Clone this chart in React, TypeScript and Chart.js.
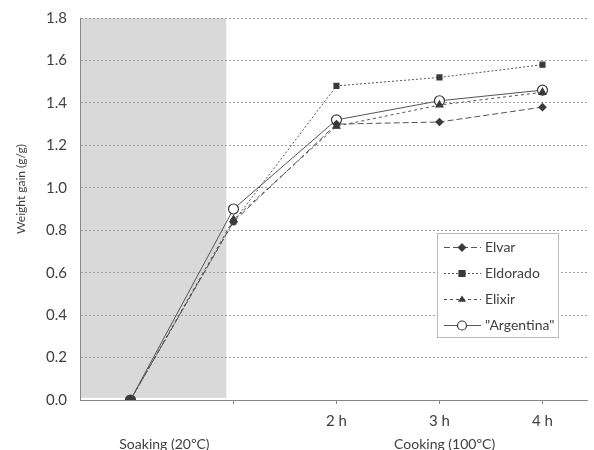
import React, { useEffect, useRef } from "react";
import { Chart, registerables } from "chart.js";

Chart.register(...registerables);

const X_POS = [0, 1, 2, 3, 4];
const TICK_LABELS: Record<number, string> = { 1: "", 2: "2 h", 3: "3 h", 4: "4 h" };
const SERIES_NAMES = ["Elvar", "Eldorado", "Elixir", "\"Argentina\""];
const ELVAR = [0, 0.84, 1.30, 1.31, 1.38];
const ELDORADO = [0, 0.84, 1.48, 1.52, 1.58];
const ELIXIR = [0, 0.85, 1.29, 1.39, 1.45];
const ARGENTINA = [0, 0.90, 1.32, 1.41, 1.46];
const SOAK_END = 0.93;
const PHASE_LABELS = [
  { text: "Soaking (20ºC)", at: 0.33 },
  { text: "Cooking (100ºC)", at: 3.05 },
];

const FONT = "Lato, 'Open Sans', sans-serif";
const TXT = "#404040";
const LINE = "#555555";
const MARK = "#3a3a3a";

function drawMarker(ctx: CanvasRenderingContext2D, style: string, x: number, y: number, r: number) {
  ctx.beginPath();
  if (style === "circle") {
    ctx.arc(x, y, r, 0, Math.PI * 2);
  } else if (style === "rect") {
    ctx.rect(x - r, y - r, 2 * r, 2 * r);
  } else if (style === "rectRot") {
    ctx.moveTo(x, y - r * 1.2);
    ctx.lineTo(x + r * 1.2, y);
    ctx.lineTo(x, y + r * 1.2);
    ctx.lineTo(x - r * 1.2, y);
    ctx.closePath();
  } else if (style === "triangle") {
    const h = r * 1.5;
    ctx.moveTo(x, y - h * 0.66);
    ctx.lineTo(x + r, y + h * 0.34);
    ctx.lineTo(x - r, y + h * 0.34);
    ctx.closePath();
  }
  ctx.fill();
  ctx.stroke();
}

const bgPlugin = {
  id: "soakBg",
  beforeDraw(chart: any) {
    const { ctx, chartArea, scales } = chart;
    const x1 = scales.x.getPixelForValue(SOAK_END);
    const yTop = scales.y.getPixelForValue(1.8);
    const yBot = scales.y.getPixelForValue(0.01);
    ctx.save();
    ctx.fillStyle = "#d9d9d9";
    ctx.fillRect(chartArea.left, yTop, x1 - chartArea.left, yBot - yTop);
    ctx.restore();
  },
  afterDraw(chart: any) {
    const { ctx, scales } = chart;
    ctx.save();
    ctx.fillStyle = TXT;
    ctx.font = `14px ${FONT}`;
    ctx.textAlign = "center";
    ctx.textBaseline = "middle";
    PHASE_LABELS.forEach((p) => {
      ctx.fillText(p.text, scales.x.getPixelForValue(p.at), 444);
    });
    ctx.save();
    ctx.translate(21, 189);
    ctx.rotate(-Math.PI / 2);
    ctx.font = `12px ${FONT}`;
    ctx.fillText("Weight gain (g/g)", 0, 0);
    ctx.restore();

    const bx = 437, by = 233, bw = 121, bh = 104;
    ctx.fillStyle = "#ffffff";
    ctx.fillRect(bx, by, bw, bh);
    ctx.strokeStyle = "#bbbbbb";
    ctx.lineWidth = 1;
    ctx.strokeRect(bx + 0.5, by + 0.5, bw, bh);
    chart.data.datasets.forEach((ds: any, i: number) => {
      const y = by + 14 + i * 26;
      ctx.save();
      ctx.strokeStyle = ds.borderColor;
      ctx.lineWidth = ds.borderWidth;
      ctx.setLineDash(ds.borderDash || []);
      ctx.beginPath();
      ctx.moveTo(bx + 7, y + 0.5);
      ctx.lineTo(bx + 44, y + 0.5);
      ctx.stroke();
      ctx.restore();
      ctx.save();
      ctx.fillStyle = ds.legendFill;
      ctx.strokeStyle = MARK;
      ctx.lineWidth = ds.pointBorderWidth;
      drawMarker(ctx, ds.pointStyle, bx + 25, y + 0.5, ds.pointStyle === "circle" ? 4.5 : 3);
      ctx.restore();
      ctx.fillStyle = TXT;
      ctx.font = `14px ${FONT}`;
      ctx.textAlign = "left";
      ctx.textBaseline = "middle";
      ctx.fillText(ds.label, bx + 48, y);
    });
    ctx.restore();
  },
};

function mk(label: string, vals: number[], style: string, dash: number[], r: number, fill: string | string[], legendFill: string) {
  return {
    label,
    data: X_POS.map((x, i) => ({ x, y: vals[i] })),
    borderColor: LINE,
    borderWidth: 1,
    borderDash: dash,
    pointStyle: style,
    pointRadius: r,
    pointBackgroundColor: fill,
    pointBorderColor: MARK,
    pointBorderWidth: 1.2,
    legendFill,
    tension: 0,
  };
}

export default function App() {
  const ref = useRef<HTMLCanvasElement>(null);
  useEffect(() => {
    document.body.style.margin = "0";
    const chart = new Chart(ref.current!, {
      type: "line",
      data: {
        datasets: [
          mk(SERIES_NAMES[0], ELVAR, "rectRot", [6, 3], 3.5, MARK, MARK),
          mk(SERIES_NAMES[1], ELDORADO, "rect", [2, 2], 3.5, MARK, MARK),
          mk(SERIES_NAMES[2], ELIXIR, "triangle", [3, 3], 4, MARK, MARK),
          mk(SERIES_NAMES[3], ARGENTINA, "circle", [], 5, ARGENTINA.map((_, i) => (i === 0 ? MARK : "#ffffff")), "#ffffff"),
        ] as any,
      },
      plugins: [bgPlugin],
      options: {
        animation: false,
        responsive: false,
        maintainAspectRatio: false,
        layout: { padding: { left: 0, top: 18, right: 4, bottom: 0 } },
        plugins: { legend: { display: false }, tooltip: { enabled: false } },
        scales: {
          x: {
            type: "linear",
            min: -0.49,
            max: 4.44,
            afterBuildTicks: (s: any) => {
              s.ticks = [1, 2, 3, 4].map((v) => ({ value: v }));
            },
            afterFit: (s: any) => {
              s.height = 50;
              s.paddingLeft = 0;
              s.paddingRight = 0;
            },
            grid: { drawOnChartArea: false, drawTicks: true, tickLength: 4, color: "#888888" },
            border: { color: "#888888" },
            ticks: {
              autoSkip: false,
              maxRotation: 0,
              padding: 8,
              color: TXT,
              font: { family: FONT, size: 15 },
              callback: (v: any) => TICK_LABELS[v as number] ?? "",
            },
          },
          y: {
            min: 0,
            max: 1.8,
            afterFit: (s: any) => {
              s.width = 80;
              s.paddingTop = 0;
              s.paddingBottom = 0;
            },
            grid: { color: "#a0a0a0", drawTicks: false, lineWidth: 1 },
            border: { color: "#888888", dash: [2, 2] },
            ticks: {
              stepSize: 0.2,
              padding: 13,
              color: TXT,
              font: { family: FONT, size: 15 },
              callback: (v: any) => Number(v).toFixed(1),
            },
          },
        },
      } as any,
    });
    return () => chart.destroy();
  }, []);
  return (
    <div style={{ position: "fixed", left: 0, top: 0, width: 594, height: 450 }}>
      <canvas ref={ref} width={594} height={450} style={{ width: 594, height: 450 }} />
    </div>
  );
}
